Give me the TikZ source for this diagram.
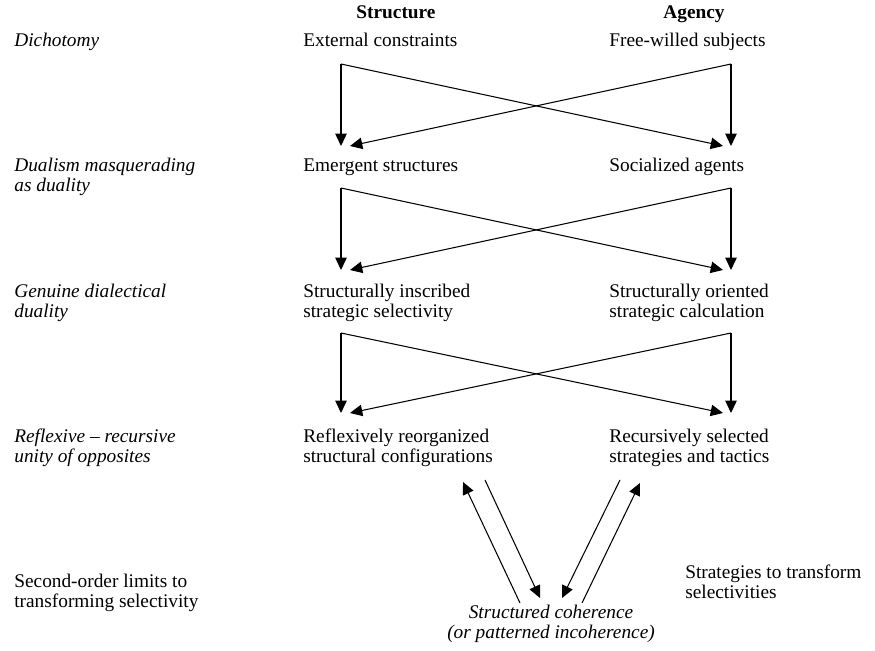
\documentclass[tikz,border=0pt]{standalone}
\usepackage{fontspec}
\setmainfont{Liberation Serif}
\usetikzlibrary{arrows.meta,calc}

\begin{document}
\begin{tikzpicture}[x=0.02cm,y=-0.02cm,
    lbl/.style={anchor=west,align=left,inner sep=0pt,font=\fontsize{11}{11.5}\selectfont},
    side/.style={lbl,font=\fontsize{11}{11.5}\selectfont\itshape},
    head/.style={anchor=base,inner sep=0pt,font=\fontsize{11}{11.5}\selectfont\bfseries},
    arr/.style={-{Triangle[length=7pt,width=6.5pt]},line width=0.6pt}]
    \def\lx{341}
    \def\rx{731}

    \useasboundingbox (0,0) rectangle (875,651);

    % Headings
    \node[head] (structure) at (396,19) {Structure};
    \node[head] (agency) at (694,19) {Agency};

    % Row labels
    \node[side,anchor=base west] (dichotomy) at (14,47) {Dichotomy};
    \node[side] (dualism) at (14,177) {Dualism masquerading\\as duality};
    \node[side] (genuine) at (14,303) {Genuine dialectical\\duality};
    \node[side] (reflexive) at (14,448) {Reflexive -- recursive\\unity of opposites};
    \node[lbl] (limits) at (14,593) {Second-order limits to\\transforming selectivity};

    % Structure / agency entries
    \node[lbl,anchor=base west] (external) at (303,47) {External constraints};
    \node[lbl,anchor=base west] (freewilled) at (609,47) {Free-willed subjects};
    \node[lbl,anchor=base west] (emergent) at (303,172) {Emergent structures};
    \node[lbl,anchor=base west] (socialized) at (609,172) {Socialized agents};
    \node[lbl] (inscribed) at (303,303) {Structurally inscribed\\strategic selectivity};
    \node[lbl] (oriented) at (609,303) {Structurally oriented\\strategic calculation};
    \node[lbl] (reorganized) at (303,448) {Reflexively reorganized\\structural configurations};
    \node[lbl] (recursive) at (609,448) {Recursively selected\\strategies and tactics};
    \node[lbl] (transform) at (685,582) {Strategies to transform\\selectivities};
    \node[side,anchor=center,align=center] (coherence) at (551,624) {Structured coherence\\(or patterned incoherence)};

    % Crossing arrows, dichotomy -> dualism
    \coordinate (ext-c) at (\lx,64);
    \coordinate (free-c) at (\rx,64);
    \coordinate (emg-t) at (\lx,146);
    \coordinate (emg-d) at (\lx+9,146);
    \coordinate (soc-t) at (\rx,146);
    \coordinate (soc-d) at (\rx-8,146);
    \draw[arr] (ext-c) -- (emg-t);
    \draw[arr] (ext-c) -- (soc-d);
    \draw[arr] (free-c) -- (soc-t);
    \draw[arr] (free-c) -- (emg-d);

    % Crossing arrows, dualism -> duality
    \coordinate (emg-c) at (\lx,188);
    \coordinate (soc-c) at (\rx,188);
    \coordinate (ins-t) at (\lx,270);
    \coordinate (ins-d) at (\lx+9,270);
    \coordinate (ori-t) at (\rx,270);
    \coordinate (ori-d) at (\rx-8,270);
    \draw[arr] (emg-c) -- (ins-t);
    \draw[arr] (emg-c) -- (ori-d);
    \draw[arr] (soc-c) -- (ori-t);
    \draw[arr] (soc-c) -- (ins-d);

    % Crossing arrows, duality -> unity
    \coordinate (ins-c) at (\lx,333);
    \coordinate (ori-c) at (\rx,333);
    \coordinate (reo-t) at (\lx,413);
    \coordinate (reo-d) at (\lx+9,413);
    \coordinate (rec-t) at (\rx,413);
    \coordinate (rec-d) at (\rx-8,413);
    \draw[arr] (ins-c) -- (reo-t);
    \draw[arr] (ins-c) -- (rec-d);
    \draw[arr] (ori-c) -- (rec-t);
    \draw[arr] (ori-c) -- (reo-d);

    % Feedback to coherence
    \coordinate (reo-up) at (463,482);
    \coordinate (reo-dn) at (485,480);
    \coordinate (rec-dn) at (620,480);
    \coordinate (rec-up) at (640,483);
    \coordinate (coh-l1) at (520,603);
    \coordinate (coh-l2) at (540,598);
    \coordinate (coh-r1) at (562,598);
    \coordinate (coh-r2) at (582,603);
    \draw[arr] (coh-l1) -- (reo-up);
    \draw[arr] (reo-dn) -- (coh-l2);
    \draw[arr] (rec-dn) -- (coh-r1);
    \draw[arr] (coh-r2) -- (rec-up);

\end{tikzpicture}
\end{document}
